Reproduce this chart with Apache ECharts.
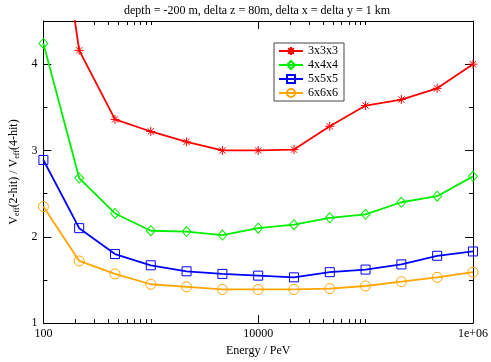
<!DOCTYPE html>
<html>
<head>
<meta charset="utf-8">
<script src="https://cdn.jsdelivr.net/npm/echarts@6/dist/echarts.min.js"></script>
<style>
  html, body { margin: 0; padding: 0; background: #fff; }
  #chart { width: 491px; height: 362px; }
</style>
</head>
<body>
<div id="chart"></div>
<script>
// energies (PeV), 3 points per decade
var energies = [100, 215.4, 464.2, 1000, 2154, 4642, 10000, 21544, 46416, 100000, 215443, 464159, 1000000]
var cube3 = [7.0, 4.16, 3.36, 3.22, 3.10, 3.00, 3.00, 3.01, 3.28, 3.52, 3.59, 3.72, 4.00]
var cube4 = [4.24, 2.68, 2.27, 2.07, 2.06, 2.02, 2.10, 2.14, 2.22, 2.26, 2.40, 2.47, 2.70]
var cube5 = [2.89, 2.10, 1.80, 1.67, 1.60, 1.57, 1.55, 1.53, 1.59, 1.62, 1.68, 1.78, 1.83]
var cube6 = [2.35, 1.72, 1.57, 1.45, 1.42, 1.39, 1.39, 1.39, 1.40, 1.43, 1.48, 1.53, 1.59]

// tick values
var xMajor = [100, 10000, 1000000]
var xMajorLabels = ['100', '10000', '1e+06']
var xMinor = [200, 300, 400, 500, 600, 700, 800, 900, 1000, 20000, 30000, 40000, 50000, 60000, 70000, 80000, 90000, 100000]
var yMajor = [1, 2, 3, 4]
var yMinor = [1.5, 2.5, 3.5]

var serif = 'Liberation Serif'
var starPath = 'path://M5,0L5,10M0,5L10,5M1.5,1.5L8.5,8.5M8.5,1.5L1.5,8.5'

function pairs (ys) {
  return ys.map(function (y, i) { return [energies[i], y] })
}

function xAx (pos, ticks, len, showLine, labels) {
  return {
    type: 'log',
    logBase: 10,
    position: pos,
    min: 100,
    max: 1000000,
    axisLine: { show: showLine, onZero: false, lineStyle: { color: '#000', width: 1 } },
    axisTick: { show: true, inside: true, length: len, customValues: ticks, lineStyle: { color: '#000' } },
    axisLabel: labels ? {
      show: true,
      customValues: xMajor,
      margin: 5,
      fontFamily: serif,
      fontSize: 12,
      color: '#000',
      formatter: function (v) {
        var i = xMajor.indexOf(v)
        return i >= 0 ? xMajorLabels[i] : ''
      }
    } : { show: false },
    splitLine: { show: false }
  }
}

function yAx (pos, ticks, len, showLine, labels) {
  return {
    type: 'value',
    position: pos,
    min: 1,
    max: 4.5,
    axisLine: { show: showLine, onZero: false, lineStyle: { color: '#000', width: 1 } },
    axisTick: { show: true, inside: true, length: len, customValues: ticks, lineStyle: { color: '#000' } },
    axisLabel: labels ? {
      show: true,
      customValues: yMajor,
      margin: 6,
      fontFamily: serif,
      fontSize: 12,
      color: '#000'
    } : { show: false },
    splitLine: { show: false }
  }
}

var xAxes = [
  xAx('bottom', xMajor, 8, true, true),
  xAx('bottom', xMinor, 4, false, false),
  xAx('top', xMajor, 8, true, false),
  xAx('top', xMinor, 4, false, false)
]
xAxes[0].name = 'Energy / PeV'
xAxes[0].nameLocation = 'middle'
xAxes[0].nameGap = 19
xAxes[0].nameTextStyle = { fontFamily: serif, fontSize: 12, color: '#000' }

var yAxes = [
  yAx('left', yMajor, 8, true, true),
  yAx('left', yMinor, 4, false, false),
  yAx('right', yMajor, 8, true, false),
  yAx('right', yMinor, 4, false, false)
]
yAxes[0].name = 'V{sub|eff}(2-hit) / V{sub|eff}(4-hit)'
yAxes[0].nameLocation = 'middle'
yAxes[0].nameGap = 15
yAxes[0].nameTextStyle = {
  fontFamily: serif,
  fontSize: 12,
  color: '#000',
  rich: {
    sub: { fontFamily: serif, fontSize: 8, color: '#000', padding: [5, 0, 0, 0] }
  }
}

function line (name, data, color, symbol, size) {
  return {
    name: name,
    type: 'line',
    xAxisIndex: 0,
    yAxisIndex: 0,
    data: pairs(data),
    symbol: symbol,
    symbolSize: size,
    showAllSymbol: true,
    lineStyle: { color: color, width: 1.8 },
    itemStyle: { color: 'transparent', borderColor: color, borderWidth: 1 },
    emphasis: { disabled: true },
    z: 3
  }
}

var chart = echarts.init(document.getElementById('chart'), null, { renderer: 'canvas' })
chart.setOption({
  animation: false,
  backgroundColor: '#fff',
  title: {
    text: 'depth = -200 m, delta z = 80m, delta x = delta y = 1 km',
    left: 252,
    textAlign: 'center',
    top: 0,
    textStyle: { fontFamily: serif, fontSize: 12, fontWeight: 'normal', color: '#000' }
  },
  grid: { left: 30, right: 17, top: 21, bottom: 30, containLabel: false },
  legend: {
    orient: 'vertical',
    left: 274,
    top: 43,
    padding: [2, 6, 2, 4],
    itemWidth: 24,
    itemHeight: 10,
    itemGap: 2,
    backgroundColor: '#fff',
    borderColor: '#444',
    borderWidth: 1,
    textStyle: { fontFamily: serif, fontSize: 12, color: '#000' },
    data: ['3x3x3', '4x4x4', '5x5x5', '6x6x6']
  },
  xAxis: xAxes,
  yAxis: yAxes,
  series: [
    line('3x3x3', cube3, '#ff0000', starPath, 9),
    line('4x4x4', cube4, '#00ee00', 'diamond', [9, 10]),
    line('5x5x5', cube5, '#0000ff', 'rect', 9),
    line('6x6x6', cube6, '#ffa500', 'circle', 10)
  ]
})
</script>
</body>
</html>
